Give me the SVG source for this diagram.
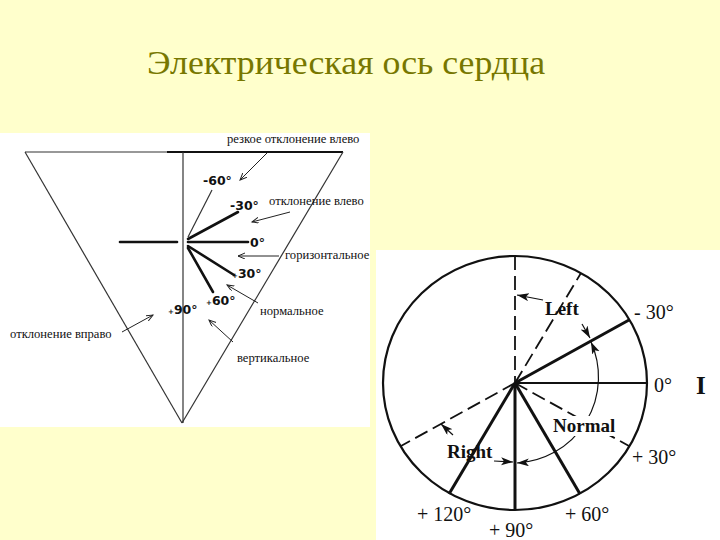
<svg xmlns="http://www.w3.org/2000/svg" width="720" height="540" viewBox="0 0 720 540">
<defs>
<style>
.bg{fill:#FFFFCC}
.panel{fill:#FFFFFF}
.thin{stroke:#333;stroke-width:1.2;fill:none}
.thick{stroke:#111;stroke-width:2.6;fill:none;stroke-linecap:round}
.ru{font-family:"Liberation Serif","Times New Roman",serif;font-size:12.6px;fill:#111}
.deg{font-family:"DejaVu Sans","Liberation Sans",sans-serif;font-weight:bold;font-size:12.5px;fill:#111}
.arr{stroke:#222;stroke-width:1;fill:none}
.c{stroke:#111;fill:none}
.cl{font-family:"Liberation Serif","Times New Roman",serif;font-size:20px;fill:#111}
.cb{font-family:"Liberation Serif","Times New Roman",serif;font-size:19px;font-weight:bold;fill:#111}
.dash{stroke:#111;stroke-width:1.8;fill:none;stroke-dasharray:14 6}
</style>
<marker id="open" markerWidth="9" markerHeight="8" refX="7" refY="3" orient="auto" markerUnits="userSpaceOnUse"><path d="M0,0 L7,3 L0,6" fill="none" stroke="#222" stroke-width="1"/></marker>
<marker id="fill" markerWidth="14" markerHeight="10" refX="12" refY="4" orient="auto-start-reverse" markerUnits="userSpaceOnUse"><path d="M0,0 L12,4 L0,8 L3,4 z" fill="#111"/></marker>
</defs>
<rect class="bg" x="0" y="0" width="720" height="540"/>
<g id="title"><text x="147" y="74" font-family="Liberation Serif,'Times New Roman',serif" font-size="33" fill="#777700" textLength="398" lengthAdjust="spacingAndGlyphs">Электрическая ось сердца</text></g>

<g id="left-panel">
<rect class="panel" x="0" y="133" width="370" height="294"/>
<g id="triangle">
<line class="thin" x1="25" y1="152" x2="167" y2="152"/>
<line x1="167" y1="152" x2="343" y2="152" stroke="#111" stroke-width="2"/>
<line class="thin" x1="25" y1="152" x2="182" y2="423"/>
<line class="thin" x1="343" y1="152" x2="182" y2="423"/>
<line class="thin" x1="183" y1="152" x2="183" y2="423"/>
</g>
<g id="left-rays">
<line class="thick" x1="120" y1="242" x2="177" y2="242"/>
<line class="thick" x1="188" y1="242" x2="248" y2="242"/>
<line class="thick" x1="188" y1="239" x2="238" y2="212"/>
<line class="thin" x1="188" y1="237" x2="212" y2="190"/>
<line class="thick" x1="188" y1="246" x2="234" y2="275"/>
<line class="thick" x1="188" y1="248" x2="213" y2="292"/>
</g>
<g id="left-degrees">
<text class="deg" x="203" y="185">-60°</text>
<text class="deg" x="230" y="210">-30°</text>
<text class="deg" x="250" y="247">0°</text>
<text class="deg" x="232" y="278"><tspan font-size="7">+</tspan>30°</text>
<text class="deg" x="206" y="305"><tspan font-size="7">+</tspan>60°</text>
<text class="deg" x="168" y="314"><tspan font-size="7">+</tspan>90°</text>
</g>
<g id="left-labels">
<text class="ru" x="227" y="143">резкое отклонение влево</text>
<text class="ru" x="269" y="205">отклонение влево</text>
<text class="ru" x="285" y="259">горизонтальное</text>
<text class="ru" x="260" y="315">нормальное</text>
<text class="ru" x="237" y="362">вертикальное</text>
<text class="ru" x="10" y="338">отклонение вправо</text>
</g>
<g id="left-connectors">
<line class="arr" x1="267" y1="153" x2="240" y2="180" marker-end="url(#open)"/>
<line class="arr" x1="290" y1="212" x2="252" y2="222" marker-end="url(#open)"/>
<line class="arr" x1="279" y1="256" x2="238" y2="256" marker-end="url(#open)"/>
<line class="arr" x1="258" y1="303" x2="227" y2="285" marker-end="url(#open)"/>
<line class="arr" x1="233" y1="342" x2="209" y2="320" marker-end="url(#open)"/>
<line class="arr" x1="122" y1="332" x2="153" y2="315" marker-end="url(#open)"/>
</g>
</g>

<g id="right-panel">
<rect class="panel" x="376" y="250" width="344" height="290"/>
<ellipse id="circle" class="c" stroke-width="2.2" cx="515" cy="383" rx="132" ry="127"/>
<g id="right-rays">
<line class="dash" x1="515" y1="256" x2="515" y2="383"/>
<line class="dash" x1="515" y1="383" x2="581" y2="273"/>
<line class="c" stroke-width="3" x1="515" y1="383" x2="629" y2="320"/>
<line class="c" stroke-width="2.2" x1="515" y1="383" x2="647" y2="383"/>
<line class="dash" x1="515" y1="383" x2="629" y2="446"/>
<line class="c" stroke-width="3" x1="515" y1="383" x2="580" y2="494"/>
<line class="c" stroke-width="3" x1="515" y1="383" x2="515" y2="510"/>
<line class="c" stroke-width="3" x1="515" y1="383" x2="449" y2="494"/>
<line class="dash" x1="515" y1="383" x2="401" y2="446"/>
</g>
<g id="right-connectors">
<path class="c" stroke-width="1.2" d="M 591,342 A 86 86 0 0 1 517,463" marker-start="url(#fill)" marker-end="url(#fill)"/>
<line class="c" stroke-width="1.2" x1="543" y1="300" x2="517" y2="295" marker-end="url(#fill)"/>
<line class="c" stroke-width="1.2" x1="582" y1="324" x2="590" y2="338" marker-end="url(#fill)"/>
<line class="c" stroke-width="1.2" x1="494" y1="461" x2="513" y2="462" marker-end="url(#fill)"/>
<line class="c" stroke-width="1.2" x1="453" y1="435" x2="441" y2="424" marker-end="url(#fill)"/>
</g>
<g id="right-labels">
<rect class="panel" x="552" y="416" width="66" height="20"/>
<text class="cb" x="553" y="432">Normal</text>
<text class="cb" x="545" y="315">Left</text>
<text class="cb" x="447" y="458">Right</text>
<text class="cl" x="634" y="319">- 30°</text>
<text class="cl" x="654" y="392">0°</text>
<text x="696" y="394" font-family="Liberation Serif,'Times New Roman',serif" font-size="25" font-weight="bold" fill="#111">I</text>
<text class="cl" x="632" y="464">+ 30°</text>
<text class="cl" x="565" y="521">+ 60°</text>
<text class="cl" x="489" y="537">+ 90°</text>
<text class="cl" x="417" y="521">+ 120°</text>
</g>
</g>
</svg>
